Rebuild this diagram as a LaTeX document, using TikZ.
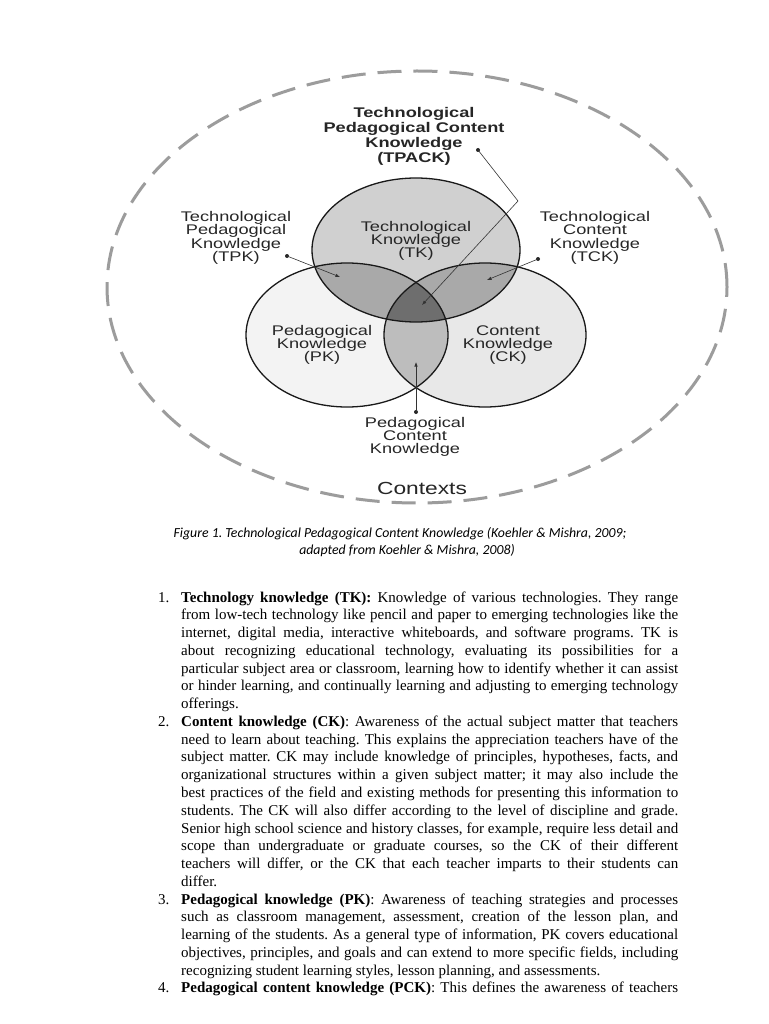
\documentclass[tikz,border=0pt]{standalone}
\usepackage{fontspec}
\setmainfont{Liberation Serif}
\newfontfamily\diag[FakeStretch=1.3]{Liberation Sans}
\newfontfamily\capfont{Carlito}
\usetikzlibrary{arrows.meta}
\definecolor{tkcol}{HTML}{D0D0D0}
\definecolor{pkcol}{HTML}{F3F3F3}
\definecolor{ckcol}{HTML}{E8E8E8}
\definecolor{tpkcol}{HTML}{A9A9A9}
\definecolor{pckcol}{HTML}{BDBDBD}
\definecolor{tpackcol}{HTML}{6E6E6E}
\definecolor{ctxcol}{HTML}{9C9C9C}
\definecolor{txtcol}{HTML}{262626}
\frenchspacing
\begin{document}
\frenchspacing
\begin{tikzpicture}[x=1pt,y=-1pt,
  lbl/.style={font=\diag\fontsize{14}{13.3}\selectfont, align=center, inner sep=0pt, text=txtcol},
  boldlbl/.style={font=\diag\bfseries\fontsize{14}{15}\selectfont, align=center, inner sep=0pt, text=txtcol},
  ctxlbl/.style={font=\diag\fontsize{17.5}{20}\selectfont, inner sep=0pt, text=txtcol},
  ptr/.style={draw=black!80, line width=0.6pt, -{Latex[length=4.5pt,width=3.5pt]}},
  dotmark/.style={fill=black!85},
  ring/.style={draw=black!90, line width=1.3pt},
  ctx/.style={draw=ctxcol, line width=3pt, dash pattern=on 24pt off 12pt},
  bodyline/.style={anchor=base west, inner sep=0pt, font=\frenchspacing\fontsize{15}{17.77}\selectfont},
  numlbl/.style={anchor=base west, inner sep=0pt, font=\fontsize{15}{17.77}\selectfont},
  caplbl/.style={anchor=base, inner sep=0pt, font=\capfont\itshape\fontsize{13.8}{17}\selectfont}
]
\useasboundingbox (0,0) rectangle (768,1024);
\fill[white] (0,0) rectangle (768,1024);

% contexts ellipse
\draw[ctx] (417,287) ellipse [x radius=310pt, y radius=216pt];

\def\TKpath{(416,250) ellipse [x radius=104pt, y radius=72pt]}
\def\PKpath{(347,335) ellipse [x radius=101pt, y radius=72pt]}
\def\CKpath{(485,335) ellipse [x radius=101pt, y radius=72pt]}

\fill[pkcol] \PKpath;
\fill[ckcol] \CKpath;
\fill[tkcol] \TKpath;
\begin{scope}
  \clip \TKpath;
  \fill[tpkcol] \PKpath;
  \fill[tpkcol] \CKpath;
\end{scope}
\begin{scope}
  \clip \PKpath;
  \fill[pckcol] \CKpath;
\end{scope}
\begin{scope}
  \clip \TKpath;
  \clip \PKpath;
  \fill[tpackcol] \CKpath;
\end{scope}
\draw[ring] \PKpath;
\draw[ring] \CKpath;
\draw[ring] \TKpath;

% labels
\node[boldlbl] (tpack) at (414,136) {Technological\\Pedagogical Content\\Knowledge\\(TPACK)};
\node[lbl] (tk) at (416,241) {Technological\\Knowledge\\(TK)};
\node[lbl] (tpk) at (236,238) {Technological\\Pedagogical\\Knowledge\\(TPK)};
\node[lbl] (tck) at (595,238) {Technological\\Content\\Knowledge\\(TCK)};
\node[lbl] (pk) at (322,345) {Pedagogical\\Knowledge\\(PK)};
\node[lbl] (ck) at (508,345) {Content\\Knowledge\\(CK)};
\node[lbl] (pck) at (415,437) {Pedagogical\\Content\\Knowledge};
\node[ctxlbl] (ctxt) at (422,488) {Contexts};

% pointers
\coordinate (tpackdot) at (478,150);
\coordinate (tpackbend) at (518,201);
\coordinate (tpacktip) at (422,305);
\coordinate (tpkdot) at (287,256);
\coordinate (tpktip) at (340,277);
\coordinate (tckdot) at (538,259);
\coordinate (tcktip) at (487,280);
\coordinate (pckdot) at (416,412);
\coordinate (pcktip) at (416,362);
\foreach \d in {tpackdot,tpkdot,tckdot,pckdot} \fill[dotmark] (\d) circle (2pt);
\draw[ptr] (tpackdot) -- (tpackbend) -- (tpacktip);
\draw[ptr] (tpkdot) -- (tpktip);
\draw[ptr] (tckdot) -- (tcktip);
\draw[ptr] (pckdot) -- (pcktip);

% caption
\node[caplbl] (cap1) at (400,537) {Figure 1. Technological Pedagogical Content Knowledge (Koehler \& Mishra, 2009;};
\node[caplbl] (cap2) at (407,554) {adapted from Koehler \& Mishra, 2008)};

% body text
\def\W{497pt}
\node[numlbl] (n1) at (158,{602+17.77*0}) {1.};
\node[bodyline] (l1) at (181,{602+17.77*0}) {\makebox[\W][s]{\textbf{Technology knowledge (TK):} Knowledge of various technologies. They range}};
\node[bodyline] (l2) at (181,{602+17.77*1}) {\makebox[\W][s]{from low-tech technology like pencil and paper to emerging technologies like the}};
\node[bodyline] (l3) at (181,{602+17.77*2}) {\makebox[\W][s]{internet, digital media, interactive whiteboards, and software programs. TK is}};
\node[bodyline] (l4) at (181,{602+17.77*3}) {\makebox[\W][s]{about recognizing educational technology, evaluating its possibilities for a}};
\node[bodyline] (l5) at (181,{602+17.77*4}) {\makebox[\W][s]{particular subject area or classroom, learning how to identify whether it can assist}};
\node[bodyline] (l6) at (181,{602+17.77*5}) {\makebox[\W][s]{or hinder learning, and continually learning and adjusting to emerging technology}};
\node[bodyline] (l7) at (181,{602+17.77*6}) {offerings.};
\node[numlbl] (n2) at (158,{602+17.77*7}) {2.};
\node[bodyline] (l8) at (181,{602+17.77*7}) {\makebox[\W][s]{\textbf{Content knowledge (CK)}: Awareness of the actual subject matter that teachers}};
\node[bodyline] (l9) at (181,{602+17.77*8}) {\makebox[\W][s]{need to learn about teaching. This explains the appreciation teachers have of the}};
\node[bodyline] (l10) at (181,{602+17.77*9}) {\makebox[\W][s]{subject matter. CK may include knowledge of principles, hypotheses, facts, and}};
\node[bodyline] (l11) at (181,{602+17.77*10}) {\makebox[\W][s]{organizational structures within a given subject matter; it may also include the}};
\node[bodyline] (l12) at (181,{602+17.77*11}) {\makebox[\W][s]{best practices of the field and existing methods for presenting this information to}};
\node[bodyline] (l13) at (181,{602+17.77*12}) {\makebox[\W][s]{students. The CK will also differ according to the level of discipline and grade.}};
\node[bodyline] (l14) at (181,{602+17.77*13}) {\makebox[\W][s]{Senior high school science and history classes, for example, require less detail and}};
\node[bodyline] (l15) at (181,{602+17.77*14}) {\makebox[\W][s]{scope than undergraduate or graduate courses, so the CK of their different}};
\node[bodyline] (l16) at (181,{602+17.77*15}) {\makebox[\W][s]{teachers will differ, or the CK that each teacher imparts to their students can}};
\node[bodyline] (l17) at (181,{602+17.77*16}) {differ.};
\node[numlbl] (n3) at (158,{602+17.77*17}) {3.};
\node[bodyline] (l18) at (181,{602+17.77*17}) {\makebox[\W][s]{\textbf{Pedagogical knowledge (PK)}: Awareness of teaching strategies and processes}};
\node[bodyline] (l19) at (181,{602+17.77*18}) {\makebox[\W][s]{such as classroom management, assessment, creation of the lesson plan, and}};
\node[bodyline] (l20) at (181,{602+17.77*19}) {\makebox[\W][s]{learning of the students. As a general type of information, PK covers educational}};
\node[bodyline] (l21) at (181,{602+17.77*20}) {\makebox[\W][s]{objectives, principles, and goals and can extend to more specific fields, including}};
\node[bodyline] (l22) at (181,{602+17.77*21}) {recognizing student learning styles, lesson planning, and assessments.};
\node[numlbl] (n4) at (158,{602+17.77*22}) {4.};
\node[bodyline] (l23) at (181,{602+17.77*22}) {\makebox[\W][s]{\textbf{Pedagogical content knowledge (PCK)}: This defines the awareness of teachers}};
\end{tikzpicture}
\end{document}
